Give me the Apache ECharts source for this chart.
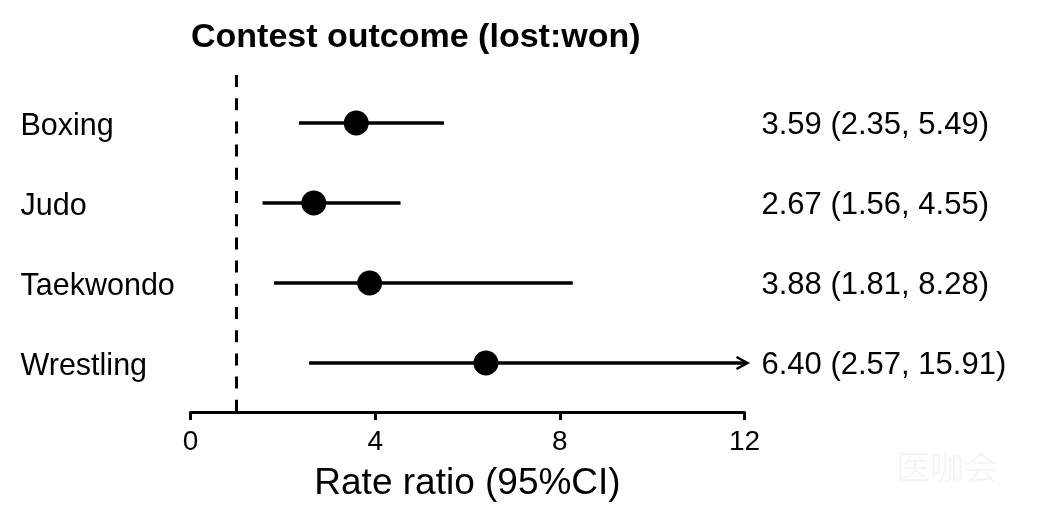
<!DOCTYPE html>
<html>
<head>
<meta charset="utf-8">
<script src="https://cdn.jsdelivr.net/npm/echarts@6/dist/echarts.min.js"></script>
<style>html,body{margin:0;padding:0;background:#fff}#c{width:1038px;height:526px}</style>
</head>
<body>
<div id="c"></div>
<script>
const sports = ['Boxing', 'Judo', 'Taekwondo', 'Wrestling'];
const estimates = [3.59, 2.67, 3.88, 6.40];
const lowerCI = [2.35, 1.56, 1.81, 2.57];
const upperCI = [5.49, 4.55, 8.28, 15.91];
const xTicks = [0, 4, 8, 12];
const refValue = 1;
const X_MIN = 0, X_MAX = 12, X_INTERVAL = 4;

const FONT = '"Liberation Sans", Arial, Helvetica, sans-serif';
const rowIdx = sports.map((s, i) => i + 1);
const rightLabels = estimates.map((e, i) =>
  e.toFixed(2) + ' (' + lowerCI[i].toFixed(2) + ', ' + upperCI[i].toFixed(2) + ')');

const chart = echarts.init(document.getElementById('c'), null, {renderer: 'canvas'});
const yCommon = {
  type: 'value', min: 0.4, max: 4.6125, inverse: true,
  splitLine: {show: false}, axisLine: {show: false}, axisTick: {show: false}
};
chart.setOption({
  animation: false,
  backgroundColor: '#fff',
  title: {
    text: 'Contest outcome (lost:won)', left: 191, top: 21, padding: 0,
    textStyle: {fontFamily: FONT, fontSize: 34, fontWeight: 'bold', color: '#000'}
  },
  graphic: [{
    type: 'text', right: 40, bottom: 42, silent: true,
    style: {text: '医咖会', font: '34px "Noto Sans CJK SC"', fill: 'rgba(0,0,0,0.04)'}
  }],
  grid: {left: 190.5, right: 293.5, top: 75, bottom: 114, containLabel: false},
  xAxis: {
    type: 'value', min: X_MIN, max: X_MAX, interval: X_INTERVAL,
    splitLine: {show: false},
    axisLine: {show: true, onZero: false, lineStyle: {color: '#000', width: 3}},
    axisTick: {show: true, length: 8, lineStyle: {color: '#000', width: 3}},
    axisLabel: {
      margin: 16, color: '#000', fontFamily: FONT, fontSize: 28,
      customValues: xTicks
    },
    name: 'Rate ratio (95%CI)', nameLocation: 'middle', nameGap: 53,
    nameTextStyle: {fontFamily: FONT, fontSize: 37, color: '#000'}
  },
  yAxis: [
    Object.assign({}, yCommon, {
      position: 'left',
      axisLabel: {
        show: true, customValues: rowIdx, align: 'left', margin: 170,
        color: '#000', fontFamily: FONT, fontSize: 30.5,
        verticalAlign: 'top', lineHeight: 7,
        formatter: v => sports[Math.round(v) - 1] || ''
      }
    }),
    Object.assign({}, yCommon, {
      position: 'right',
      axisLabel: {
        show: true, customValues: rowIdx, align: 'left', margin: 17,
        color: '#000', fontFamily: FONT, fontSize: 31,
        verticalAlign: 'top', lineHeight: 5,
        formatter: v => rightLabels[Math.round(v) - 1] || ''
      }
    })
  ],
  series: [
    {
      type: 'custom',
      clip: false,
      data: sports.map((s, i) => [lowerCI[i], upperCI[i], i + 1]),
      encode: {x: [0, 1], y: 2},
      renderItem: function (params, api) {
        const lo = api.value(0), hi = api.value(1), y = api.value(2);
        const p1 = api.coord([lo, y]);
        const p2 = api.coord([Math.min(hi, X_MAX), y]);
        const children = [{
          type: 'line',
          shape: {x1: p1[0], y1: p1[1], x2: p2[0] + (hi > X_MAX ? 2 : 0), y2: p2[1]},
          style: {stroke: '#000', lineWidth: 3.5}
        }];
        if (hi > X_MAX) {
          children.push({
            type: 'polyline',
            shape: {points: [[p2[0] - 8, p2[1] - 6], [p2[0] + 3, p2[1]], [p2[0] - 8, p2[1] + 6]]},
            style: {stroke: '#000', lineWidth: 2.5, fill: null}
          });
        }
        return {type: 'group', children: children};
      },
      z: 2
    },
    {
      type: 'scatter',
      data: estimates.map((e, i) => [e, i + 1]),
      symbol: 'circle', symbolSize: 25,
      itemStyle: {color: '#000', opacity: 1},
      emphasis: {disabled: true},
      z: 3,
      markLine: {
        silent: true, symbol: 'none', label: {show: false},
        lineStyle: {color: '#000', width: 3, type: [12, 11.2], opacity: 1},
        data: [{xAxis: refValue}]
      }
    }
  ]
});
</script>
</body>
</html>
